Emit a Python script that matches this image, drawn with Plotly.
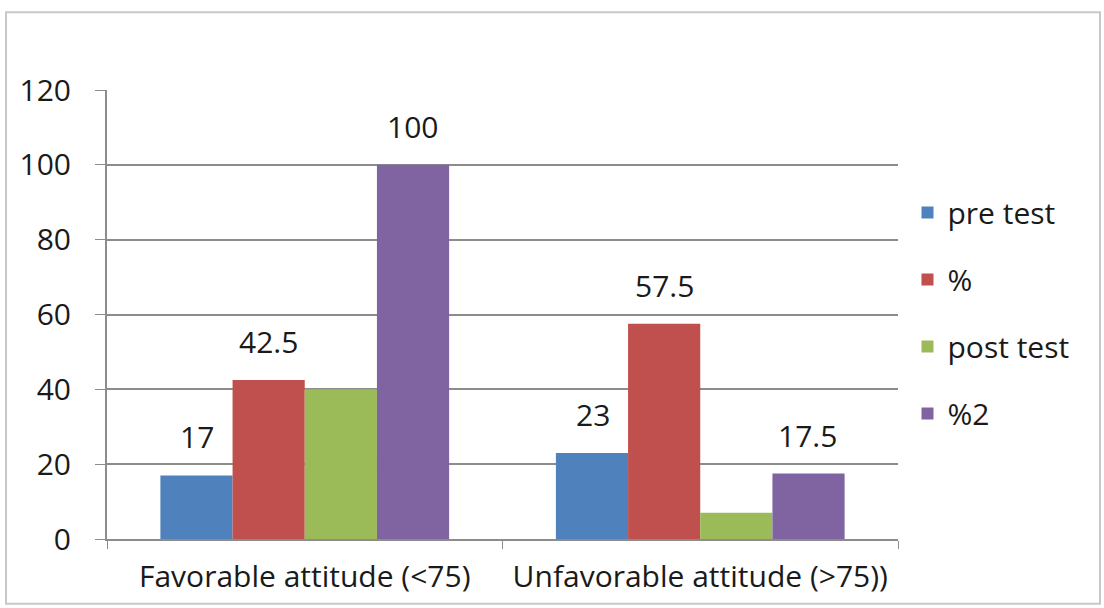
import plotly.graph_objects as go

categories = ["Favorable attitude (<75)", "Unfavorable attitude (>75))"]
series_names = ["pre test", "%", "post test", "%2"]
pre_test = [17, 23]
pct = [42.5, 57.5]
post_test = [40, 7]
pct2 = [100, 17.5]
# post test values are not labelled on the chart
show_label = [True, True, False, True]
colors = ["#4F81BD", "#C0504D", "#9BBB59", "#8064A2"]
y_ticks = [0, 20, 40, 60, 80, 100, 120]

W, H = 1104, 608
L, R, T, B = 107, 206, 90, 67
FONT = "Open Sans"
FS = 30
TXT = "#1a1a1a"

fig = go.Figure()
all_values = [pre_test, pct, post_test, pct2]
for i, (name, vals) in enumerate(zip(series_names, all_values)):
    fig.add_trace(go.Bar(
        x=categories, y=vals, name=name,
        marker=dict(color=colors[i], line=dict(width=0)),
        legendgroup=name,
    ))

# value labels above bars
annotations = []
n = len(series_names)
for i, vals in enumerate(all_values):
    if not show_label[i]:
        continue
    for c, v in enumerate(vals):
        annotations.append(dict(
            x=c, y=v, xref="x", yref="y",
            xshift=(i - (n - 1) / 2) * 71.8,
            yshift=16, yanchor="bottom",
            text=f"{v:g}", showarrow=False,
            font=dict(family=FONT, size=FS, color=TXT),
        ))

pw = W - L - R
ph = H - T - B
def px_x(p):
    return (p - L) / pw
def px_y(p):
    return (H - B - p) / ph

shapes = [dict(
    type="rect", xref="paper", yref="paper",
    x0=px_x(6), x1=px_x(1100), y0=px_y(606), y1=px_y(12),
    line=dict(color="#C8C8C8", width=2), fillcolor="rgba(0,0,0,0)", layer="below",
)]

fig.update_layout(
    width=W, height=H,
    margin=dict(l=L, r=R, t=T, b=B),
    paper_bgcolor="white", plot_bgcolor="white",
    barmode="group", bargap=0.27, bargroupgap=0,
    font=dict(family=FONT, size=FS, color=TXT),
    showlegend=True,
    legend=dict(
        x=1.012, y=0.785, xanchor="left", yanchor="top",
        font=dict(family=FONT, size=FS, color=TXT),
        tracegroupgap=25, itemwidth=30, traceorder="grouped",
        bgcolor="rgba(0,0,0,0)",
    ),
    annotations=annotations,
    shapes=shapes,
    xaxis=dict(
        showline=True, linecolor="#8C8C8C", linewidth=2,
        ticks="outside", tickson="boundaries", ticklen=8,
        tickcolor="#8C8C8C", tickwidth=1,
        tickfont=dict(family=FONT, size=FS, color=TXT),
        showgrid=False,
        ticklabelstandoff=10,
    ),
    yaxis=dict(
        range=[0, 120], tickvals=y_ticks,
        showline=True, linecolor="#8C8C8C", linewidth=2,
        ticks="outside", ticklen=10, tickcolor="#8C8C8C", tickwidth=1,
        showgrid=True, gridcolor="#8C8C8C", gridwidth=1.5,
        zeroline=False,
        tickfont=dict(family=FONT, size=FS, color=TXT),
        ticklabelstandoff=18,
    ),
)

fig.write_html("out.html")
